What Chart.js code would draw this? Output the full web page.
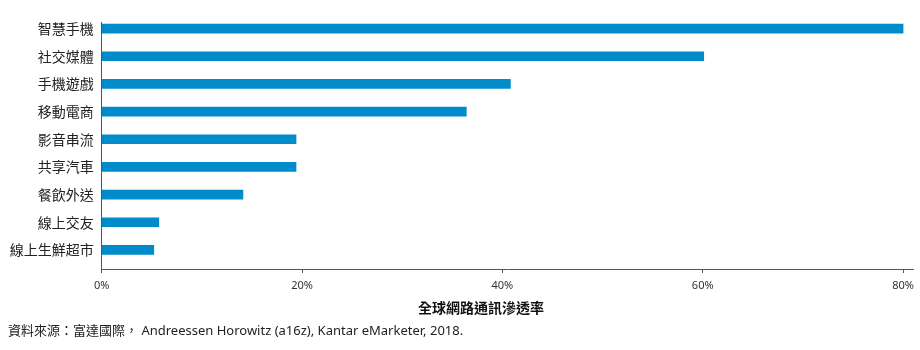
<!DOCTYPE html>
<html>
<head>
<meta charset="utf-8">
<script src="https://cdn.jsdelivr.net/npm/chart.js@4"></script>
<style>
  body { margin: 0; background: #fff; }
  #wrap { position: relative; width: 920px; height: 350px; }
  #source {
    position: absolute; left: 8px; top: 320px; line-height: 18px;
    font: 13px "Noto Sans", "Noto Sans CJK TC", sans-serif; color: #222;
    white-space: nowrap;
  }
</style>
</head>
<body>
<div id="wrap">
  <canvas id="penetrationChart" width="920" height="350"></canvas>
  <div id="source">資料來源：富達國際， Andreessen Horowitz (a16z), Kantar eMarketer, 2018.</div>
</div>
<script>
/* Data */
const categories = ['智慧手機', '社交媒體', '手機遊戲', '移動電商', '影音串流', '共享汽車', '餐飲外送', '線上交友', '線上生鮮超市'];
const penetration = [80, 60.1, 40.8, 36.4, 19.4, 19.4, 14.1, 5.7, 5.2];
const xTicks = [0, 20, 40, 60, 80];
const xTitle = '全球網路通訊滲透率';

const barColor = '#008bca';
const axisColor = '#555';

const ctx = document.getElementById('penetrationChart').getContext('2d');

// bars on a numeric index axis so the bands can sit where the reference has them
const barData = categories.map((c, i) => ({ x: penetration[i], y: i }));

// the y labels hang out to the left of the (narrow) y scale box, so widen its clip area
const labelRoom = {
  id: 'labelRoom',
  afterLayout: function (chart) {
    chart.scales.y.left = 0;
  }
};

const chart = new Chart(ctx, {
  type: 'bar',
  data: {
    datasets: [{
      label: xTitle,
      data: barData,
      backgroundColor: barColor,
      barThickness: 9
    }]
  },
  plugins: [labelRoom],
  options: {
    indexAxis: 'y',
    responsive: false,
    animation: false,
    layout: {
      padding: { left: 48, right: 6, top: 22, bottom: 30 }
    },
    plugins: {
      legend: { display: false },
      tooltip: { enabled: false },
      title: {
        display: true,
        position: 'bottom',
        text: xTitle,
        color: '#111',
        font: { family: '"Noto Sans CJK TC", sans-serif', size: 14, weight: 'bold' },
        padding: { top: 1, bottom: 4 }
      }
    },
    scales: {
      x: {
        type: 'linear',
        min: 0,
        max: 81,
        afterBuildTicks: function (scale) {
          scale.ticks = xTicks.map(v => ({ value: v }));
        },
        ticks: {
          padding: 6,
          color: '#333',
          font: { family: '"Noto Sans", sans-serif', size: 11 },
          callback: function (value) {
            return value + '%';
          }
        },
        grid: {
          drawOnChartArea: false,
          drawTicks: true,
          tickLength: 4,
          color: axisColor
        },
        border: { color: axisColor, width: 1 }
      },
      y: {
        type: 'linear',
        reverse: true,
        offset: false,
        min: -0.237,
        max: 8.69,
        afterBuildTicks: function (scale) {
          scale.ticks = categories.map((c, i) => ({ value: i }));
        },
        afterFit: function (scale) {
          scale.width = 53.7;
        },
        ticks: {
          padding: 8,
          color: '#222',
          font: { family: '"Noto Sans CJK TC", sans-serif', size: 14 },
          callback: function (value) {
            return categories[value];
          }
        },
        grid: { display: false, drawTicks: false, offset: false },
        border: { color: axisColor, width: 1 }
      }
    }
  }
});
</script>
</body>
</html>
